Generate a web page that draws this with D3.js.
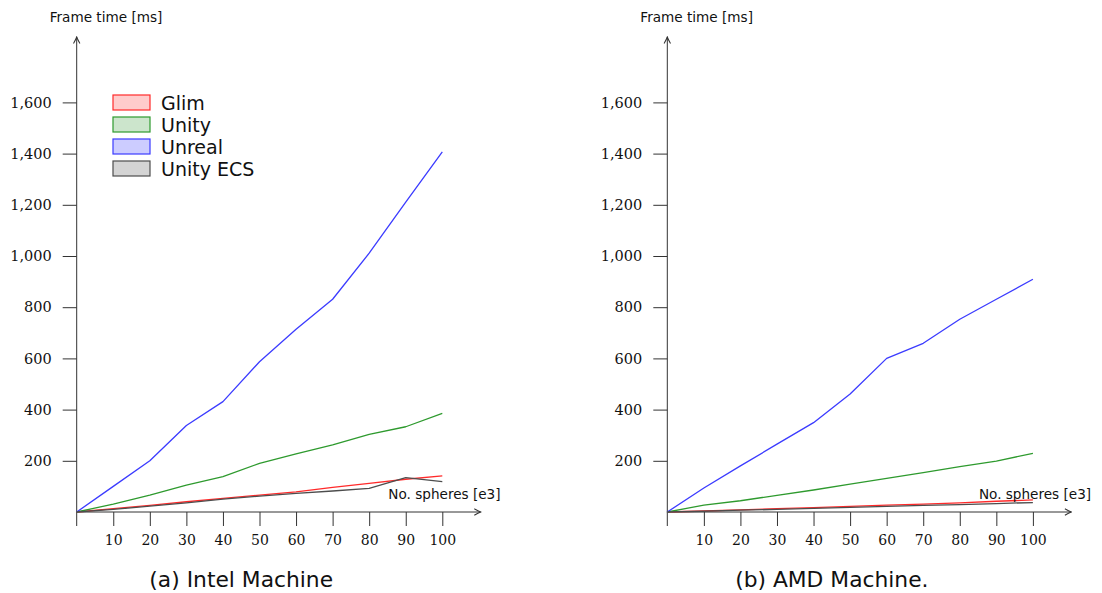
<!DOCTYPE html>
<html>
<head>
<meta charset="utf-8">
<script src="https://d3js.org/d3.v7.min.js"></script>
<style>
  body { margin: 0; background: #fff; }
  .sans { font-family: "DejaVu Sans", sans-serif; }
  .serif { font-family: "DejaVu Serif", serif; }
</style>
</head>
<body>
<div id="chart"></div>
<script>
// sphere counts (thousands)
const spheres = [0, 10, 20, 30, 40, 50, 60, 70, 80, 90, 100];
const yTicks = [200, 400, 600, 800, 1000, 1200, 1400, 1600];
const xTicks = [10, 20, 30, 40, 50, 60, 70, 80, 90, 100];

const engines = ["Glim", "Unity", "Unreal", "Unity ECS"];
const lineColors = ["#ff2a2a", "#2e9a2e", "#3b3bff", "#4d4d4d"];
const fillColors = ["#ffcccc", "#cce5cc", "#ccccff", "#d4d4d4"];

// Intel machine, frame time in ms
const intelGlim   = [0, 13, 26, 40, 53, 66, 79, 96, 112, 128, 141];
const intelUnity  = [0, 31, 66, 105, 138, 190, 227, 262, 303, 333, 385];
const intelUnreal = [0, 100, 200, 338, 431, 587, 714, 831, 1011, 1210, 1407];
const intelEcs    = [0, 10, 23, 36, 50, 62, 73, 82, 92, 134, 119];

// AMD machine, frame time in ms
const amdGlim   = [0, 4, 8, 13, 17, 22, 27, 31, 36, 42, 47];
const amdUnity  = [0, 27, 44, 65, 86, 109, 131, 154, 177, 199, 229];
const amdUnreal = [0, 94, 180, 265, 349, 461, 600, 659, 753, 831, 909];
const amdEcs    = [0, 3, 7, 10, 14, 18, 22, 26, 29, 33, 37];

const W = 1102, H = 593;
const svg = d3.select("#chart").append("svg")
    .attr("width", W)
    .attr("height", H);

svg.append("defs").append("marker")
    .attr("id", "arrow")
    .attr("viewBox", "0 0 10 10")
    .attr("refX", 9).attr("refY", 5)
    .attr("markerWidth", 8).attr("markerHeight", 8)
    .attr("markerUnits", "userSpaceOnUse")
    .attr("orient", "auto")
    .append("path")
    .attr("d", "M1,1 Q6,4 9,5 Q6,6 1,9")
    .attr("fill", "none")
    .attr("stroke", "#333")
    .attr("stroke-width", 1.3);

function drawPanel(left, series, caption, showLegend) {
    const x = d3.scaleLinear().domain([0, 100]).range([left, left + 365.6]);
    const y = d3.scaleLinear().domain([0, 1600]).range([512, 102.4]);
    const g = svg.append("g");

    // y axis
    g.append("line")
        .attr("x1", x(0)).attr("x2", x(0))
        .attr("y1", y(0) + 14).attr("y2", 37)
        .attr("stroke", "#333").attr("stroke-width", 1)
        .attr("marker-end", "url(#arrow)");
    const ya = g.append("g")
        .attr("transform", "translate(" + x(0) + ",0)")
        .call(d3.axisLeft(y).tickValues(yTicks).tickSize(14).tickPadding(11)
            .tickFormat(d3.format(",")));
    ya.select(".domain").remove();
    ya.selectAll(".tick line").attr("stroke", "#333");
    ya.selectAll("text").attr("class", "serif")
        .style("font-size", "14.5px").attr("fill", "#111");

    // x axis
    g.append("line")
        .attr("x1", x(0) - 0.5).attr("x2", x(0) + 404)
        .attr("y1", y(0)).attr("y2", y(0))
        .attr("stroke", "#333").attr("stroke-width", 1)
        .attr("marker-end", "url(#arrow)");
    const xa = g.append("g")
        .attr("transform", "translate(0," + y(0) + ")")
        .call(d3.axisBottom(x).tickValues(xTicks).tickSize(14).tickPadding(9));
    xa.select(".domain").remove();
    xa.selectAll(".tick line").attr("stroke", "#333");
    xa.selectAll("text").attr("class", "serif")
        .style("font-size", "14px").attr("fill", "#111");

    // lines
    const line = d3.line()
        .x(function(d, i) { return x(spheres[i]); })
        .y(function(d) { return y(d); });
    series.forEach(function(s, i) {
        g.append("path")
            .datum(s)
            .attr("fill", "none")
            .attr("stroke", lineColors[i])
            .attr("stroke-width", 1.3)
            .attr("stroke-linejoin", "round")
            .attr("d", line);
    });

    // axis labels
    g.append("text").attr("class", "sans")
        .attr("x", x(0) - 27).attr("y", 22)
        .style("font-size", "13.6px").attr("fill", "#111")
        .text("Frame time [ms]");
    g.append("text").attr("class", "sans")
        .attr("x", x(100) - 54).attr("y", 499)
        .style("font-size", "13.6px").attr("fill", "#111")
        .text("No. spheres [e3]");

    g.append("text").attr("class", "sans")
        .attr("x", x(45)).attr("y", 587)
        .attr("text-anchor", "middle")
        .style("font-size", "21.8px").attr("fill", "#111")
        .text(caption);

    if (showLegend) {
        const lg = g.append("g").attr("transform", "translate(113,95)");
        engines.forEach(function(name, i) {
            lg.append("rect")
                .attr("x", 0).attr("y", i * 22)
                .attr("width", 37).attr("height", 15)
                .attr("fill", fillColors[i])
                .attr("stroke", lineColors[i]).attr("stroke-width", 1.2);
            lg.append("text").attr("class", "sans")
                .attr("x", 48).attr("y", i * 22 + 15)
                .style("font-size", "19px").attr("fill", "#111")
                .text(name);
        });
    }
}

drawPanel(76.7, [intelGlim, intelUnity, intelUnreal, intelEcs], "(a) Intel Machine", true);
drawPanel(667.3, [amdGlim, amdUnity, amdUnreal, amdEcs], "(b) AMD Machine.", false);
</script>
</body>
</html>
